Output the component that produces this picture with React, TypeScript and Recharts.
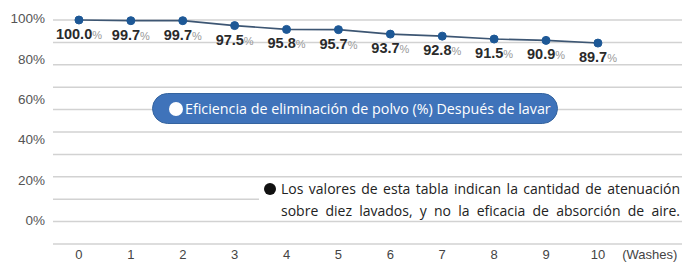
import React from "react";
import { LineChart, Line, XAxis, YAxis, CartesianGrid, LabelList } from "recharts";

const washes = [0, 1, 2, 3, 4, 5, 6, 7, 8, 9, 10];
const efficiency = [100.0, 99.7, 99.7, 97.5, 95.8, 95.7, 93.7, 92.8, 91.5, 90.9, 89.7];
const xTicks = [0, 1, 2, 3, 4, 5, 6, 7, 8, 9, 10, 11];
const xUnitLabel = "(Washes)";
const gridValues = [0, 10, 20, 30, 40, 50, 60, 70, 80, 90, 100];
const yTickLabels = [0, 20, 40, 60, 80, 100];
const seriesName = "Eficiencia de eliminación de polvo (%) Después de lavar";
const noteLines = [
  "Los valores de esta tabla indican la cantidad de atenuación",
  "sobre diez lavados, y  no la eficacia de absorción de aire.",
];

const data = washes.map((w, i) => ({ wash: w, eff: efficiency[i] }));

const TOP = 20;

const ValueLabel = (props: any) => {
  const { x, y, value } = props;
  return (
    <text x={x} y={y + 19} textAnchor="middle" fontFamily="'Liberation Sans', Arial, sans-serif">
      <tspan fontWeight="bold" fontSize={14.5} fill="#2a2a2a">{Number(value).toFixed(1)}</tspan>
      <tspan fontSize={11} fill="#999">%</tspan>
    </text>
  );
};

const YTick = (props: any) => {
  const { x, y, payload } = props;
  if (!yTickLabels.includes(payload.value)) return null;
  // the printed labels sit on a slightly compressed scale relative to the gridlines
  const ly = TOP + (y - TOP) * 0.9 - 1.5;
  return (
    <text
      x={x}
      y={ly}
      dy="0.36em"
      textAnchor="end"
      fill="#555"
      fontSize={13.5}
      fontFamily="'Liberation Sans', Arial, sans-serif"
    >
      {`${payload.value}%`}
    </text>
  );
};

export default function App() {
  return (
    <div style={{ position: "absolute", left: 0, top: 0, width: 683, height: 262, background: "#fff" }}>
      <LineChart width={683} height={262} data={data} margin={{ top: TOP, right: 1, bottom: 0, left: 0 }}>
        <CartesianGrid vertical={false} stroke="#d2d2d2" strokeWidth={1.5} />
        <XAxis
          dataKey="wash"
          type="number"
          domain={[-0.5, 11.62]}
          ticks={xTicks}
          interval={0}
          height={18}
          axisLine={false}
          tickLine={false}
          tickSize={6}
          tickMargin={0}
          tickFormatter={(v: number) => (v === 11 ? xUnitLabel : String(v))}
          tick={{ fill: "#444", fontSize: 13, fontFamily: "'Liberation Sans', Arial, sans-serif" }}
        />
        <YAxis
          domain={[0, 100]}
          ticks={gridValues}
          interval={0}
          width={53}
          axisLine={false}
          tickLine={false}
          tick={<YTick />}
        />
        <Line
          dataKey="eff"
          name={seriesName}
          stroke="#3d5673"
          strokeWidth={1.6}
          dot={{ r: 4, fill: "#1d5896", stroke: "#1d5896", strokeWidth: 1 }}
          isAnimationActive={false}
        >
          <LabelList dataKey="eff" content={<ValueLabel />} />
        </Line>
      </LineChart>
      <div
        style={{
          position: "absolute",
          left: 152,
          top: 93,
          width: 406,
          height: 31,
          boxSizing: "border-box",
          borderRadius: 16,
          background: "#3f73ba",
          border: "1px solid #35649f",
          display: "flex",
          alignItems: "center",
          paddingLeft: 16,
          fontFamily: "'Open Sans', sans-serif",
          fontSize: 14.3,
          color: "#fff",
          whiteSpace: "nowrap",
        }}
      >
        <span style={{ display: "inline-block", width: 14, height: 14, borderRadius: 7, background: "#fff", marginRight: 2 }} />
        {seriesName}
      </div>
      <div
        style={{
          position: "absolute",
          left: 259,
          top: 180,
          width: 424,
          height: 39,
          background: "#fff",
          fontFamily: "'Open Sans', sans-serif",
          fontSize: 14,
          color: "#222",
        }}
      >
        <span style={{ position: "absolute", left: 5, top: 3, width: 12, height: 12, borderRadius: 6, background: "#111" }} />
        {noteLines.map((t, i) => (
          <div
            key={i}
            style={{
              position: "absolute",
              left: 22,
              top: i * 22,
              width: 399,
              lineHeight: "18px",
              textAlign: "justify",
              textAlignLast: "justify",
              whiteSpace: "nowrap",
            }}
          >
            {t}
          </div>
        ))}
      </div>
    </div>
  );
}
